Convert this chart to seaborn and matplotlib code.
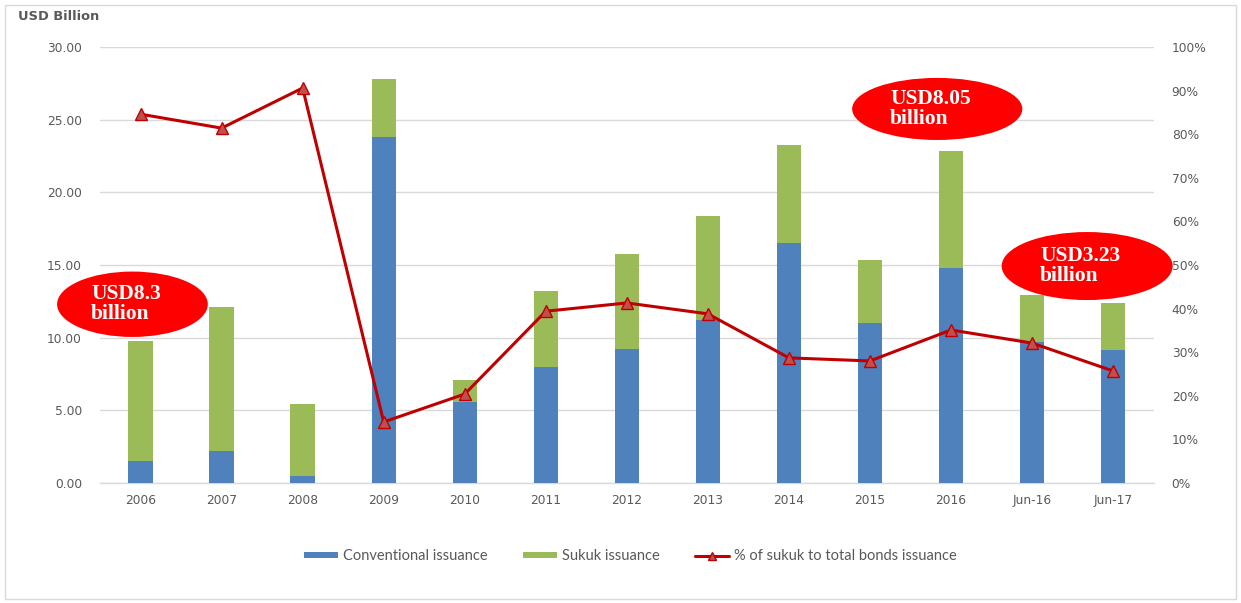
import numpy as np
import pandas as pd
import matplotlib
matplotlib.use("Agg")
import matplotlib.pyplot as plt
from matplotlib.patches import Ellipse, Rectangle, Patch
from matplotlib.lines import Line2D
from matplotlib.ticker import FuncFormatter, MultipleLocator
import seaborn as sns

# Bond issuance, USD billion
periods = ["2006", "2007", "2008", "2009", "2010", "2011", "2012",
           "2013", "2014", "2015", "2016", "Jun-16", "Jun-17"]
conventional = [1.5, 2.2, 0.48, 23.8, 5.6, 8.0, 9.2, 11.2, 16.5, 11.0, 14.8, 9.7, 9.15]
sukuk = [8.3, 9.9, 4.95, 4.0, 1.5, 5.2, 6.55, 7.15, 6.75, 4.35, 8.05, 3.23, 3.25]
# Share of sukuk in total bond issuance, %
sukuk_share = [84.6, 81.4, 90.6, 14.0, 20.4, 39.4, 41.3, 38.8, 28.7, 28.0, 35.1, 32.1, 25.7]

callouts = [("USD8.3\nbillion", 0), ("USD8.05\nbillion", 10), ("USD3.23\nbillion", 11)]

BLUE = "#4F81BD"
GREEN = "#9BBB59"
LINE_RED = "#C00000"
MARK_RED = "#C0504D"
TXT = "#595959"
GRID = "#D9D9D9"

sns.set_theme(style="white")
plt.rcParams["font.family"] = ["DejaVu Sans"]

df = pd.DataFrame({
    "period": periods,
    "conventional": conventional,
    "sukuk": sukuk,
    "share": sukuk_share,
})
df["total"] = df["conventional"] + df["sukuk"]

fig = plt.figure(figsize=(12.41, 6.03), dpi=100)
ax = fig.add_axes([0.0806, 0.199, 0.849, 0.723])

sns.barplot(data=df, x="period", y="total", color=GREEN, width=0.3,
            saturation=1, linewidth=0, edgecolor="none", ax=ax, zorder=2)
sns.barplot(data=df, x="period", y="conventional", color=BLUE, width=0.3,
            saturation=1, linewidth=0, edgecolor="none", ax=ax, zorder=3)

ax.set_ylim(0, 30)
ax.set_xlim(-0.5, len(periods) - 0.5)
ax.yaxis.set_major_locator(MultipleLocator(5))
ax.yaxis.set_major_formatter(FuncFormatter(lambda v, p: f"{v:.2f}"))
ax.grid(axis="y", color=GRID, linewidth=1.0, zorder=0)
ax.set_axisbelow(True)
for s in ["top", "right", "left"]:
    ax.spines[s].set_visible(False)
ax.spines["bottom"].set_color(GRID)
ax.spines["bottom"].set_linewidth(1.0)
ax.set_xlabel("")
ax.set_ylabel("")
ax.tick_params(axis="y", length=0, pad=13, labelsize=8.8, labelcolor=TXT)
ax.tick_params(axis="x", length=0, pad=8, labelsize=8.8, labelcolor=TXT)

ax2 = ax.twinx()
x_pos = np.arange(len(periods))
sns.lineplot(x=x_pos, y=df["share"].values, ax=ax2, color=LINE_RED, linewidth=2.2,
             marker="^", markersize=9, markerfacecolor=MARK_RED,
             markeredgecolor=LINE_RED, markeredgewidth=1.0, sort=False, zorder=5)
ax2.set_ylim(0, 100)
ax2.yaxis.set_major_locator(MultipleLocator(10))
ax2.yaxis.set_major_formatter(FuncFormatter(lambda v, p: f"{v:.0f}%"))
for s in ax2.spines.values():
    s.set_visible(False)
ax2.tick_params(axis="y", length=0, pad=13, labelsize=8.8, labelcolor=TXT)
ax2.set_ylabel("")
ax2.grid(False)

# Red callout ovals with sukuk amounts
oval_geom = {0: (-0.1, 12.3, 1.86, 4.5), 10: (9.83, 25.74, 2.1, 4.27), 11: (11.68, 14.93, 2.11, 4.68)}
text_off = {0: -0.51, 10: -0.58, 11: -0.58}
for label, idx in callouts:
    cx, cy, w, h = oval_geom[idx]
    ell = Ellipse((cx, cy), w, h, transform=ax.transData, facecolor="#FF0000",
                  edgecolor="none", clip_on=False, zorder=10)
    ax2.add_patch(ell)
    ax2.text(cx + text_off[idx], cy, label, transform=ax.transData, ha="left",
             va="center", color="white", fontsize=15.5, fontweight="bold",
             family=["Liberation Serif"], linespacing=0.98, zorder=11, clip_on=False)

fig.text(0.0145, 0.972, "USD Billion", fontsize=9.4, fontweight="bold", color=TXT,
         ha="left", va="center")

handles = [
    Patch(facecolor=BLUE, edgecolor="none"),
    Patch(facecolor=GREEN, edgecolor="none"),
    Line2D([0], [0], color=LINE_RED, linewidth=2.2, marker="^", markersize=6,
           markerfacecolor=MARK_RED, markeredgecolor=LINE_RED),
]
leg = fig.legend(handles, ["Conventional issuance", "Sukuk issuance",
                           "% of sukuk to total bonds issuance"],
                 loc="center", bbox_to_anchor=(0.508, 0.078), ncol=3, frameon=False,
                 handlelength=2.33, handleheight=0.3, columnspacing=2.4,
                 handletextpad=0.35, prop={"family": "Lato", "size": 10.5})
for t in leg.get_texts():
    t.set_color(TXT)

# Light border around the chart area
fig.add_artist(Rectangle((0.004, 0.006), 0.992, 0.986, transform=fig.transFigure,
                         fill=False, edgecolor=GRID, linewidth=1.0))

fig.savefig("out.png", dpi=100)
